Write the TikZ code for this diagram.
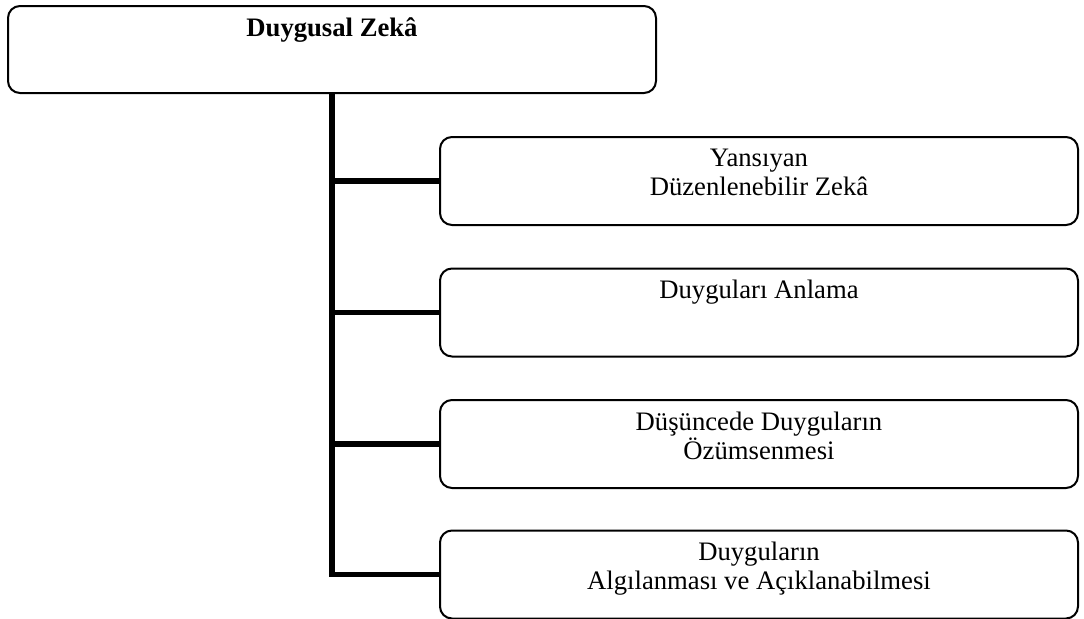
\documentclass[tikz,border=0pt]{standalone}
\usepackage{fontspec}
\setmainfont{Liberation Serif}
\usepackage{tikz}
\usetikzlibrary{positioning, calc}

\begin{document}
\begin{tikzpicture}[x=0.75pt, y=-0.75pt,
    box/.style={draw, line width=1.5pt, rounded corners=9pt, minimum width=478.5pt, minimum height=66pt, inner sep=0pt},
    boxtext/.style={anchor=north, inner sep=0pt, align=center, font=\fontsize{20}{21.75}\selectfont},
    branch/.style={line width=3.8pt}]
    \useasboundingbox (0,0) rectangle (1084,618);

    % Top box
    \node[box, minimum width=486pt, minimum height=65.25pt] (top) at (332,49.5) {};
    \node[boxtext, font=\fontsize{20}{21.75}\selectfont\bfseries, below=9.5pt of top.north, anchor=north] (toptext) {Duygusal Zekâ};

    % Child boxes
    \node[box] (c1) at (759,181) {};
    \node[box] (c2) at (759,312.5) {};
    \node[box] (c3) at (759,444) {};
    \node[box] (c4) at (759,574.5) {};

    \node[boxtext, below=9.5pt of c1.north, anchor=north] (t1) {Yansıyan\\Düzenlenebilir Zekâ};
    \node[boxtext, below=9.5pt of c2.north, anchor=north] (t2) {Duyguları Anlama};
    \node[boxtext, below=9.5pt of c3.north, anchor=north] (t3) {Düşüncede Duyguların\\Özümsenmesi};
    \node[boxtext, below=9.5pt of c4.north, anchor=north] (t4) {Duyguların\\Algılanması ve Açıklanabilmesi};

    % Connectors
    \draw[branch] (top.south) |- (c4.west);
    \draw[branch] (top.south |- c1.west) -- (c1.west);
    \draw[branch] (top.south |- c2.west) -- (c2.west);
    \draw[branch] (top.south |- c3.west) -- (c3.west);
\end{tikzpicture}
\end{document}
